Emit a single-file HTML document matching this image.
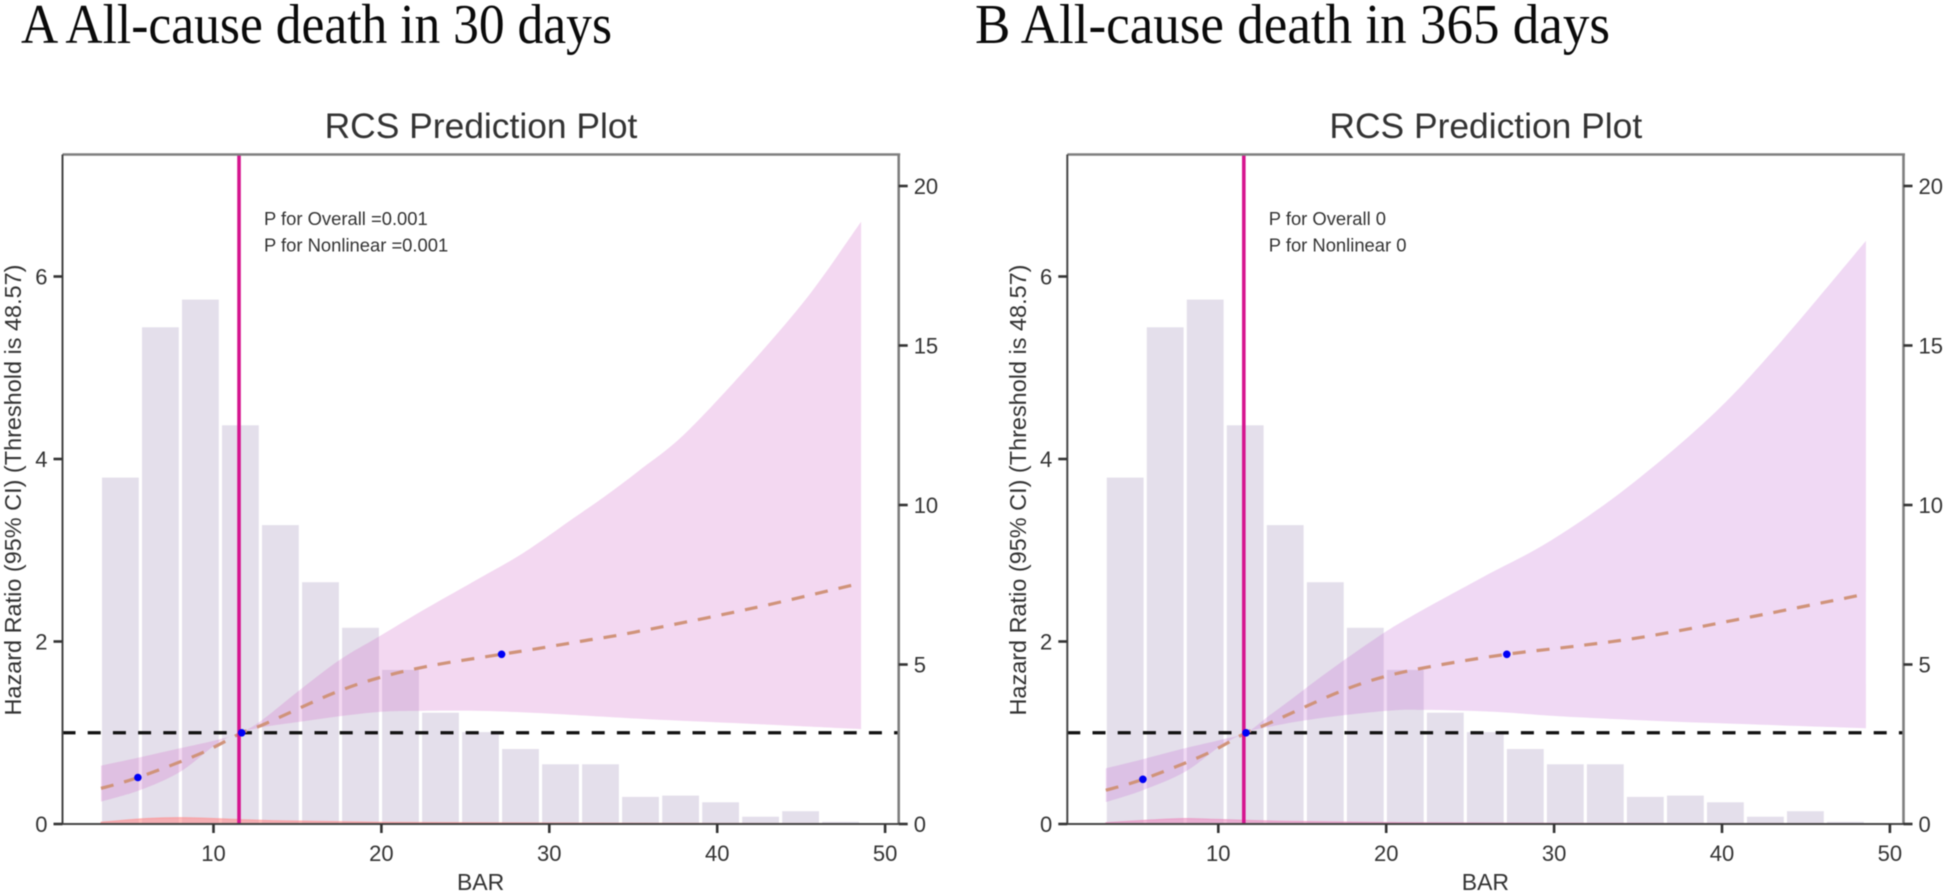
<!DOCTYPE html>
<html lang="en">
<head>
<meta charset="utf-8">
<title>RCS Prediction Plots</title>
<style>
html,body{margin:0;padding:0;background:#fff;width:1948px;height:895px;overflow:hidden}
svg{display:block;filter:blur(0.45px)}
text{font-family:"Liberation Sans",sans-serif;fill:#333}
.head{font-family:"Liberation Serif",serif;fill:#0a0a0a;font-size:56px}
</style>
</head>
<body>
<svg id="chart" xmlns="http://www.w3.org/2000/svg" width="1948" height="895" viewBox="0 0 1948 895">
<rect width="1948" height="895" fill="#fff"/>
<text class="head" x="21" y="43" textLength="591" lengthAdjust="spacingAndGlyphs">A All-cause death in 30 days</text>
<text class="head" x="975" y="43" textLength="635" lengthAdjust="spacingAndGlyphs">B All-cause death in 365 days</text>
</svg>
<script>
// Shared data
const histogramCounts = [10.86,15.57,16.44,12.5,9.37,7.58,6.15,4.83,3.49,2.88,2.35,1.87,1.87,0.85,0.89,0.68,0.23,0.40,0.07];
const histogramStart = 3.3;
const histogramBinWidth = 2.383;
const xTickLabels = [10,20,30,40,50];
const leftTickLabels = [0,2,4,6];
const rightTickLabels = [0,5,10,15,20];
const referenceHR = 1;
const thresholdBAR = 11.52;

// Panel A series
const aLineX = [3.3,5.5,9.2,11.68,13.1,17.1,20,23.1,27.16,28.9,31.8,35,42,48.57];
const aLineHR = [0.39,0.51,0.77,1.0,1.1,1.43,1.61,1.74,1.86,1.91,2.0,2.1,2.36,2.64];
const aUpperX = [3.3,5.6,8,10.2,11.6,12.9,15.15,17.53,19.82,22.5,25.47,28.45,31.43,33.42,35.4,37.98,41.68,45.4,48.57];
const aUpperHR = [0.64,0.73,0.83,0.92,1.0,1.14,1.47,1.80,2.05,2.345,2.655,2.97,3.35,3.605,3.88,4.26,4.98,5.78,6.6];
const aLowerX = [3.3,5.6,8,10.2,11.6,12.9,15.15,17.5,20,22.3,25.9,30,35.8,41.76,48.57];
const aLowerHR = [0.244,0.37,0.57,0.88,1.0,1.06,1.12,1.18,1.23,1.24,1.24,1.21,1.15,1.10,1.04];
const aPointX = [5.5,11.68,27.16];
const aPointHR = [0.51,1.0,1.86];
const aBandX = [3.3,6,8,10,14,20,30,48.57];
const aBandHR = [0.02,0.06,0.07,0.06,0.035,0.02,0.012,0.006];

// Panel B series
const bLineX = [3.3,5.51,9.2,11.65,13.1,17.1,20,23.1,27.18,31.8,36,42,48.57];
const bLineHR = [0.37,0.49,0.76,1.0,1.11,1.44,1.62,1.74,1.86,1.96,2.07,2.28,2.52];
const bUpperX = [3.3,5.5,8,10.1,11.65,12.9,14.3,15.86,17.65,19.83,21.82,25.8,29.75,34.3,39.3,43.25,48.57];
const bUpperHR = [0.61,0.71,0.83,0.92,1.0,1.17,1.36,1.578,1.816,2.09,2.31,2.71,3.10,3.68,4.46,5.23,6.39];
const bLowerX = [3.3,5.5,8,10.1,11.65,12.9,15.67,20,22.3,26.4,30.3,36,42,48.57];
const bLowerHR = [0.24,0.37,0.57,0.85,1.0,1.06,1.15,1.24,1.25,1.23,1.18,1.13,1.09,1.05];
const bPointX = [5.51,11.65,27.18];
const bPointHR = [0.49,1.0,1.86];
const bBandX = [3.3,6,8,10,14,20,30,48.57];
const bBandHR = [0.015,0.045,0.06,0.05,0.03,0.018,0.01,0.005];

const SVGNS = 'http://www.w3.org/2000/svg';
const root = document.getElementById('chart');

function make(parent, tag, attrs, txt) {
  const n = document.createElementNS(SVGNS, tag);
  for (const k in attrs) n.setAttribute(k, attrs[k]);
  if (txt !== undefined) n.textContent = txt;
  parent.appendChild(n);
  return n;
}

function smooth(pts) {
  let d = '';
  for (let i = 0; i < pts.length - 1; i++) {
    const p0 = pts[Math.max(i - 1, 0)], p1 = pts[i], p2 = pts[i + 1], p3 = pts[Math.min(i + 2, pts.length - 1)];
    const c1x = p1[0] + (p2[0] - p0[0]) / 6, c1y = p1[1] + (p2[1] - p0[1]) / 6;
    const c2x = p2[0] - (p3[0] - p1[0]) / 6, c2y = p2[1] - (p3[1] - p1[1]) / 6;
    d += ' C' + c1x.toFixed(1) + ' ' + c1y.toFixed(1) + ' ' + c2x.toFixed(1) + ' ' + c2y.toFixed(1) + ' ' + p2[0].toFixed(1) + ' ' + p2[1].toFixed(1);
  }
  return d;
}

function drawPanel(prefix, dx, s) {
  const xScale = v => dx + 213.5 + (v - 10) * 16.79;
  const yScale = v => 824 - v * 91.25;
  const countScale = v => 824 - v * 31.9;
  const L = dx + 62.5, R = dx + 898.7, T = 154.5, B = 824;
  const zip = (xs, ys) => xs.map((x, i) => [xScale(x), yScale(ys[i])]);

  const g = make(root, 'g', {});
  
  

  histogramCounts.forEach((c, i) => {
    const x0 = xScale(histogramStart + i * histogramBinWidth);
    const bar = make(g, 'rect', {x: (x0 + 1).toFixed(1), y: countScale(c).toFixed(1), width: 36.8, height: (B - countScale(c)).toFixed(1), fill: '#e4dfeb'});
    
    
  });

  const up = zip(s.upperX, s.upperHR);
  const lo = zip(s.lowerX, s.lowerHR).reverse();
  const ribbon = make(g, 'path', {d: 'M' + up[0][0] + ' ' + up[0][1] + smooth(up) + ' L' + lo[0][0] + ' ' + lo[0][1] + smooth(lo) + ' Z', fill: s.ribbonFill});
  
  

  const bandPts = zip(s.bandX, s.bandHR);
  const band = make(g, 'path', {d: 'M' + bandPts[0][0] + ' ' + B + ' L' + bandPts[0][0] + ' ' + bandPts[0][1] + smooth(bandPts) + ' L' + bandPts[bandPts.length - 1][0] + ' ' + B + ' Z', fill: s.bandFill, stroke: s.bandFill, 'stroke-width': 1});
  
  

  const hline = make(g, 'line', {x1: L, x2: R, y1: yScale(referenceHR), y2: yScale(referenceHR), stroke: '#111', 'stroke-width': 3.2, 'stroke-dasharray': '13 12.2'});
  
  

  const linePts = zip(s.lineX, s.lineHR);
  const curve = make(g, 'path', {d: 'M' + linePts[0][0] + ' ' + linePts[0][1] + smooth(linePts), fill: 'none', stroke: '#d0937a', 'stroke-width': 3.2, 'stroke-dasharray': '13 11'});
  
  

  const vline = make(g, 'line', {x1: xScale(thresholdBAR), x2: xScale(thresholdBAR), y1: T, y2: B, stroke: '#d6158f', 'stroke-width': 3.6});
  
  

  s.pointX.forEach((x, i) => {
    const pt = make(g, 'circle', {cx: xScale(x).toFixed(1), cy: yScale(s.pointHR[i]).toFixed(1), r: 3.8, fill: '#0000f5'});
    
    
  });

  const topAxis = make(g, 'line', {x1: L, x2: R + 1.5, y1: T, y2: T, stroke: '#7f7f7f', 'stroke-width': 2.6});
  
  
  const rightAxis = make(g, 'line', {x1: R, x2: R, y1: T, y2: B, stroke: '#7f7f7f', 'stroke-width': 2.6});
  
  
  const leftAxis = make(g, 'line', {x1: L, x2: L, y1: T, y2: B + 1, stroke: '#454545', 'stroke-width': 2});
  
  
  const bottomAxis = make(g, 'line', {x1: L, x2: R, y1: B, y2: B, stroke: '#454545', 'stroke-width': 2});
  
  

  xTickLabels.forEach(v => {
    const t = make(g, 'line', {x1: xScale(v), x2: xScale(v), y1: B, y2: B + 9, stroke: '#333', 'stroke-width': 2.6});
    
    
    const l = make(g, 'text', {x: xScale(v), y: 861, 'text-anchor': 'middle', 'font-size': 22}, String(v));
    
    
  });
  leftTickLabels.forEach(v => {
    const t = make(g, 'line', {x1: L - 9, x2: L, y1: yScale(v), y2: yScale(v), stroke: '#333', 'stroke-width': 2.6});
    
    
    const l = make(g, 'text', {x: L - 15, y: yScale(v) + 8, 'text-anchor': 'end', 'font-size': 22}, String(v));
    
    
  });
  rightTickLabels.forEach(v => {
    const t = make(g, 'line', {x1: R, x2: R + 9, y1: countScale(v), y2: countScale(v), stroke: '#333', 'stroke-width': 2.6});
    
    
    const l = make(g, 'text', {x: R + 15, y: countScale(v) + 8, 'font-size': 22}, String(v));
    
    
  });

  const title = make(g, 'text', {x: dx + 481, y: 138, 'text-anchor': 'middle', 'font-size': 35.4}, 'RCS Prediction Plot');
  
  
  const xTitle = make(g, 'text', {x: dx + 480.6, y: 890, 'text-anchor': 'middle', 'font-size': 23}, 'BAR');
  
  
  const yTitle = make(g, 'text', {transform: 'translate(' + (dx + 21) + ' 490) rotate(-90)', 'text-anchor': 'middle', 'font-size': 23, textLength: 451, lengthAdjust: 'spacingAndGlyphs'}, 'Hazard Ratio (95% CI) (Threshold is 48.57)');
  
  
  const p1 = make(g, 'text', {x: dx + 264, y: 225, 'font-size': 18.4}, s.pOverall);
  
  
  const p2 = make(g, 'text', {x: dx + 264, y: 251.5, 'font-size': 18.4}, s.pNonlinear);
  
  
}

drawPanel('panel-a', 0, {
  lineX: aLineX, lineHR: aLineHR, upperX: aUpperX, upperHR: aUpperHR, lowerX: aLowerX, lowerHR: aLowerHR,
  pointX: aPointX, pointHR: aPointHR, bandX: aBandX, bandHR: aBandHR,
  ribbonFill: 'rgba(210,110,205,0.27)', bandFill: 'rgba(255,140,140,0.6)',
  pOverall: 'P for Overall =0.001', pNonlinear: 'P for Nonlinear =0.001'
});
drawPanel('panel-b', 1004.8, {
  lineX: bLineX, lineHR: bLineHR, upperX: bUpperX, upperHR: bUpperHR, lowerX: bLowerX, lowerHR: bLowerHR,
  pointX: bPointX, pointHR: bPointHR, bandX: bBandX, bandHR: bBandHR,
  ribbonFill: 'rgba(200,115,215,0.27)', bandFill: 'rgba(235,140,190,0.6)',
  pOverall: 'P for Overall 0', pNonlinear: 'P for Nonlinear 0'
});
</script>
</body>
</html>
